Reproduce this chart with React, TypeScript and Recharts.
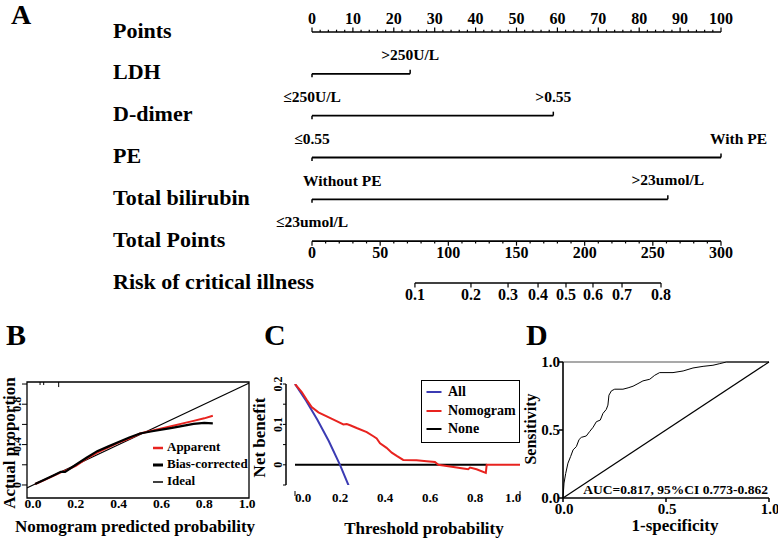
import React from 'react';
import {
  ComposedChart,
  Line,
  Scatter,
  XAxis,
  YAxis,
  ReferenceArea,
  ReferenceLine,
  Legend,
  Label,
} from 'recharts';

const SERIF = '"Liberation Serif", "Times New Roman", Times, serif';
const RED = '#e8231f';
const BLUE = '#3b3bb3';
const T = { fontFamily: SERIF, fontWeight: 700, fill: '#000' } as const;

/* ---------------- Panel A: nomogram ---------------- */
const rowLabels = ['Points', 'LDH', 'D-dimer', 'PE', 'Total bilirubin', 'Total Points', 'Risk of critical illness'];
const pointsTicks = Array.from({ length: 51 }, (_, i) => i * 2);
const pointsTickLabels = [0, 10, 20, 30, 40, 50, 60, 70, 80, 90, 100];
const predictorMaxPoints = [24, 59, 100, 87];
const levelLow = ['≤250U/L', '≤0.55', 'Without PE', '≤23umol/L'];
const levelHigh = ['>250U/L', '>0.55', 'With PE', '>23umol/L'];
const totalTicks = Array.from({ length: 31 }, (_, i) => i * 10);
const totalTickLabels = [0, 50, 100, 150, 200, 250, 300];
const riskTickLabels = ['0.1', '0.2', '0.3', '0.4', '0.5', '0.6', '0.7', '0.8'];
const riskTickPoints = [75.5, 116.6, 143.8, 165.8, 186.3, 206.1, 227.4, 256];

/* ---------------- Panel B: calibration ---------------- */
const calX = [0.01, 0.05, 0.1, 0.13, 0.15, 0.2, 0.25, 0.3, 0.35, 0.4, 0.45, 0.5, 0.55, 0.6, 0.65, 0.7, 0.75, 0.8, 0.84];
const calApparent = [0.01, 0.045, 0.095, 0.125, 0.14, 0.19, 0.26, 0.32, 0.37, 0.42, 0.46, 0.51, 0.535, 0.56, 0.585, 0.61, 0.635, 0.66, 0.685];
const calBias = [0.01, 0.05, 0.1, 0.13, 0.13, 0.2, 0.27, 0.335, 0.38, 0.425, 0.47, 0.51, 0.53, 0.548, 0.565, 0.585, 0.605, 0.615, 0.61];
const idealX = [-0.03, 1.03];
const rugX = [0.033, 0.05, 0.12];
const rugLen = [0.03, 0.03, 0.05];
const calLegend = [
  { name: 'Apparent', color: RED, width: 2.5 },
  { name: 'Bias-corrected', color: '#000', width: 3 },
  { name: 'Ideal', color: '#000', width: 1.5 },
];

/* ---------------- Panel C: decision curve ---------------- */
const allT = [0, 0.05, 0.1, 0.15, 0.2, 0.25];
const allNB = [0.2, 0.158, 0.111, 0.059, 0, -0.067];
const nomoT = [0, 0.03, 0.052, 0.074, 0.104, 0.141, 0.185, 0.215, 0.23, 0.245, 0.274, 0.319, 0.35, 0.363, 0.378, 0.407, 0.43, 0.452, 0.481, 0.54, 0.585, 0.622, 0.637, 0.689, 0.748, 0.77, 0.778, 0.807, 0.848, 0.852, 1.0];
const nomoNB = [0.2, 0.18, 0.161, 0.143, 0.13, 0.12, 0.108, 0.1, 0.101, 0.098, 0.091, 0.081, 0.07, 0.065, 0.053, 0.042, 0.03, 0.022, 0.012, 0.011, 0.009, 0.007, 0.0, -0.004, -0.009, -0.011, -0.007, -0.011, -0.02, 0.0, 0.0];
const noneT = [0, 0.852];
const noneNB = [0, 0];
const dcaLegend = [
  { name: 'All', color: BLUE },
  { name: 'Nomogram', color: RED },
  { name: 'None', color: '#000' },
];

/* ---------------- Panel D: ROC ---------------- */
const rocFpr = [0, 0.005, 0.013, 0.024, 0.037, 0.049, 0.065, 0.078, 0.089, 0.113, 0.129, 0.146, 0.162, 0.181, 0.194, 0.21, 0.218, 0.223, 0.235, 0.251, 0.291, 0.316, 0.34, 0.364, 0.388, 0.421, 0.445, 0.469, 0.534, 0.583, 0.631, 0.68, 0.728, 0.761, 0.793, 1.0];
const rocTpr = [0, 0.11, 0.18, 0.256, 0.305, 0.354, 0.378, 0.43, 0.446, 0.456, 0.488, 0.52, 0.561, 0.573, 0.622, 0.651, 0.683, 0.756, 0.788, 0.8, 0.8, 0.81, 0.822, 0.841, 0.861, 0.873, 0.902, 0.922, 0.922, 0.934, 0.956, 0.968, 0.976, 0.988, 1.0, 1.0];
const aucText = 'AUC=0.817, 95%CI 0.773-0.862';

/* ---------------- derived tables ---------------- */
const pointsRow = pointsTicks.map((v) => ({ x: v, y: 0, major: pointsTickLabels.includes(v) }));
const levelRows = predictorMaxPoints.map((m, i) => [
  { x: 0, y: i + 1, label: levelLow[i], end: 'low' },
  { x: m, y: i + 1, label: levelHigh[i], end: 'high' },
]);
const totalRow = totalTicks.map((v) => ({ x: v, y: 5, major: totalTickLabels.includes(v) }));
const riskRow = riskTickPoints.map((p, i) => ({ x: p, y: 6, label: riskTickLabels[i] }));

const apparentData = calX.map((x, i) => ({ x, y: calApparent[i] }));
const biasData = calX.map((x, i) => ({ x, y: calBias[i] }));
const idealData = idealX.map((x) => ({ x, y: x }));

const allData = allT.map((t, i) => ({ t, nb: allNB[i] }));
const nomoData = nomoT.map((t, i) => ({ t, nb: nomoNB[i] }));
const noneData = noneT.map((t, i) => ({ t, nb: noneNB[i] }));

const rocData = rocFpr.map((x, i) => ({ x, y: rocTpr[i] }));
const diagData = [{ x: 0, y: 0 }, { x: 1, y: 1 }];

/* label placement tweaks for the nomogram level texts */
const levelShift: Record<string, { anchor: 'start' | 'middle' | 'end'; dx: number }> = {
  'Without PE': { anchor: 'start', dx: -9 },
  'With PE': { anchor: 'start', dx: -11 },
};

/* ---------------- shapes & ticks ---------------- */
const RowLabelTick = (p: any) => (
  <text x={113} y={p.y + 5.5} fontSize={22} {...T}>
    {rowLabels[p.payload.value]}
  </text>
);

const PointsTickShape = (p: any) => {
  const { cx, cy, payload } = p;
  const len = payload.major ? 4.5 : 2.3;
  return (
    <g>
      <line x1={cx} x2={cx} y1={cy} y2={cy - len} stroke="#000" strokeWidth={1.2} />
      {payload.major && (
        <text x={cx} y={cy - 8} textAnchor="middle" fontSize={16} {...T}>
          {payload.x}
        </text>
      )}
    </g>
  );
};

const LevelEndShape = (p: any) => {
  const { cx, cy, payload } = p;
  const low = payload.end === 'low';
  const sh = levelShift[payload.label] ?? { anchor: 'middle', dx: 0 };
  return (
    <g>
      <line x1={cx} x2={cx} y1={cy} y2={low ? cy + 3.5 : cy - 4} stroke="#000" strokeWidth={1.5} />
      <text x={cx + sh.dx} y={low ? cy + 28 : cy - 14} textAnchor={sh.anchor} fontSize={15.5} {...T}>
        {payload.label}
      </text>
    </g>
  );
};

const TotalTickShape = (p: any) => {
  const { cx, cy, payload } = p;
  const len = payload.major ? 4.5 : 2.3;
  return (
    <g>
      <line x1={cx} x2={cx} y1={cy} y2={cy + len} stroke="#000" strokeWidth={1.2} />
      {payload.major && (
        <text x={cx} y={cy + 17} textAnchor="middle" fontSize={16} {...T}>
          {payload.x}
        </text>
      )}
    </g>
  );
};

const RiskTickShape = (p: any) => {
  const { cx, cy, payload } = p;
  return (
    <g>
      <line x1={cx} x2={cx} y1={cy} y2={cy + 4.5} stroke="#000" strokeWidth={1.2} />
      <text x={cx} y={cy + 17} textAnchor="middle" fontSize={16} {...T}>
        {payload.label}
      </text>
    </g>
  );
};

/* panel B ticks */
const bYLabelled = [0, 0.4, 0.8];
const BXTick = (p: any) => (
  <text x={p.x} y={p.y + 10} textAnchor="middle" fontSize={13.5} {...T}>
    {Number(p.payload.value).toFixed(1)}
  </text>
);
const BYTick = (p: any) => {
  const v = p.payload.value;
  const tx = p.x - 6;
  return (
    <g>
      <line x1={p.x - 5} x2={p.x} y1={p.y} y2={p.y} stroke="#000" strokeWidth={1} />
      {bYLabelled.includes(v) && (
        <text x={tx} y={p.y} transform={`rotate(-90 ${tx} ${p.y})`} textAnchor="middle" fontSize={12} {...T}>
          {String(v)}
        </text>
      )}
    </g>
  );
};

/* panel C ticks */
const cYLabelled = [0, 0.1, 0.2];
const CXTick = (p: any) => {
  const v = p.payload.value;
  const shift = v === 0 ? 8 : v === 1 ? -7 : 0;
  const isEnd = v === 0 || v === 1;
  return (
    <g>
      {isEnd && <line x1={p.x} x2={p.x} y1={p.y + 6} y2={p.y + 11} stroke="#000" strokeWidth={1} />}
      <text x={p.x + shift} y={p.y + 17} textAnchor="middle" fontSize={13} {...T}>
        {Number(v).toFixed(1)}
      </text>
    </g>
  );
};
const CYTick = (p: any) => {
  const v = p.payload.value;
  const tx = p.x - 4;
  return (
    <g>
      <line x1={p.x - 3} x2={p.x} y1={p.y} y2={p.y} stroke="#000" strokeWidth={1} />
      {cYLabelled.includes(v) && (
        <text x={tx} y={p.y} transform={`rotate(-90 ${tx} ${p.y})`} textAnchor="middle" fontSize={12} {...T}>
          {String(v)}
        </text>
      )}
    </g>
  );
};

/* panel D ticks */
const DXTick = (p: any) => (
  <g>
    <line x1={p.x} x2={p.x} y1={p.y} y2={p.y + 4} stroke="#000" strokeWidth={1.5} />
    <text x={p.x + 1} y={p.y + 16} textAnchor="middle" fontSize={15} {...T}>
      {Number(p.payload.value).toFixed(1)}
    </text>
  </g>
);
const DYTick = (p: any) => (
  <g>
    <line x1={p.x - 4} x2={p.x} y1={p.y} y2={p.y} stroke="#000" strokeWidth={1.5} />
    <text x={p.x - 3} y={p.y + 5} textAnchor="end" fontSize={15} {...T}>
      {Number(p.payload.value).toFixed(1)}
    </text>
  </g>
);

/* axis titles via Label content */
const xTitle = (text: string, dx: number, dy: number, size: number) => (props: any) => {
  const vb = props.viewBox || {};
  return (
    <text x={vb.x + vb.width / 2 + dx} y={vb.y + dy} textAnchor="middle" fontSize={size} {...T}>
      {text}
    </text>
  );
};
const yTitle = (text: string, bx: number, dy: number, size: number) => (props: any) => {
  const vb = props.viewBox || {};
  const x = vb.x + bx;
  const y = vb.y + vb.height / 2 + dy;
  return (
    <text x={x} y={y} transform={`rotate(-90 ${x} ${y})`} textAnchor="middle" fontSize={size} {...T}>
      {text}
    </text>
  );
};
const aucLabel = (props: any) => {
  const vb = props.viewBox || {};
  return (
    <text x={vb.x + vb.width - 1} y={vb.y - 4} textAnchor="end" fontSize={13.5} {...T}>
      {aucText}
    </text>
  );
};

/* legends */
const CalLegendContent = () => (
  <div style={{ fontFamily: SERIF, fontWeight: 700, fontSize: 13, color: '#000', lineHeight: '17px' }}>
    {calLegend.map((e) => (
      <div key={e.name} style={{ display: 'flex', alignItems: 'center', height: 17, whiteSpace: 'nowrap' }}>
        <svg width={15} height={17} style={{ display: 'block' }}>
          <line x1={1} x2={11} y1={10} y2={10} stroke={e.color} strokeWidth={e.width} />
        </svg>
        <span>{e.name}</span>
      </div>
    ))}
  </div>
);

const DcaLegendContent = () => (
  <div
    style={{
      fontFamily: SERIF,
      fontWeight: 700,
      fontSize: 14,
      color: '#000',
      border: '1.5px solid #000',
      boxSizing: 'border-box',
      width: 99,
      height: 63,
      paddingTop: 2,
      background: '#fff',
    }}
  >
    {dcaLegend.map((e) => (
      <div key={e.name} style={{ display: 'flex', alignItems: 'center', height: 18.5, whiteSpace: 'nowrap' }}>
        <svg width={26} height={18} style={{ display: 'block' }}>
          <line x1={4.5} x2={19.5} y1={9} y2={9} stroke={e.color} strokeWidth={2} />
        </svg>
        <span>{e.name}</span>
      </div>
    ))}
  </div>
);

/* ---------------- charts ---------------- */
function Nomogram() {
  return (
    <ComposedChart width={778} height={310} margin={{ top: 32, right: 57, bottom: 27, left: 112 }}>
      <XAxis xAxisId="pts" type="number" dataKey="x" domain={[0, 100]} hide />
      <XAxis xAxisId="tot" type="number" dataKey="x" domain={[0, 300]} hide />
      <YAxis
        yAxisId="row"
        type="number"
        dataKey="y"
        domain={[0, 6]}
        reversed
        ticks={[0, 1, 2, 3, 4, 5, 6]}
        interval={0}
        width={200}
        axisLine={false}
        tickLine={false}
        tickSize={0}
        tickMargin={0}
        tick={RowLabelTick}
      />
      <Scatter
        xAxisId="pts"
        yAxisId="row"
        data={pointsRow}
        line={{ stroke: '#000', strokeWidth: 1.6 }}
        shape={PointsTickShape}
        isAnimationActive={false}
      />
      {levelRows.map((d, i) => (
        <Scatter
          key={i}
          xAxisId="pts"
          yAxisId="row"
          data={d}
          line={{ stroke: '#000', strokeWidth: 1.8 }}
          shape={LevelEndShape}
          isAnimationActive={false}
        />
      ))}
      <Scatter
        xAxisId="tot"
        yAxisId="row"
        data={totalRow}
        line={{ stroke: '#000', strokeWidth: 1.6 }}
        shape={TotalTickShape}
        isAnimationActive={false}
      />
      <Scatter
        xAxisId="tot"
        yAxisId="row"
        data={riskRow}
        line={{ stroke: '#000', strokeWidth: 1.6 }}
        shape={RiskTickShape}
        isAnimationActive={false}
      />
    </ComposedChart>
  );
}

function Calibration() {
  return (
    <ComposedChart width={260} height={178} margin={{ top: 22, right: 11, bottom: 0, left: 0 }}>
      <XAxis
        type="number"
        dataKey="x"
        domain={[-0.028, 1.009]}
        allowDataOverflow
        ticks={[0, 0.2, 0.4, 0.6, 0.8, 1]}
        interval={0}
        height={40}
        axisLine={false}
        tickLine={false}
        tickSize={0}
        tickMargin={0}
        tick={BXTick}
      >
        <Label content={xTitle('Nomogram predicted probability', -3, 34, 17)} />
      </XAxis>
      <YAxis
        type="number"
        domain={[-0.129, 1.02]}
        allowDataOverflow
        ticks={[0, 0.2, 0.4, 0.6, 0.8, 1]}
        interval={0}
        width={27}
        axisLine={false}
        tickLine={false}
        tickSize={0}
        tickMargin={0}
        tick={BYTick}
      >
        <Label content={yTitle('Actual proportion', 15, 3, 17)} />
      </YAxis>
      <ReferenceArea x1={-0.028} x2={1.009} y1={-0.129} y2={1.02} fill="none" stroke="#000" strokeWidth={1.3} ifOverflow="visible" />
      {rugX.map((v, i) => (
        <ReferenceLine
          key={i}
          segment={[{ x: v, y: 1.02 }, { x: v, y: 1.02 - rugLen[i] }]}
          stroke="#000"
          strokeWidth={1}
          ifOverflow="visible"
        />
      ))}
      <Line data={idealData} dataKey="y" stroke="#000" strokeWidth={1.2} dot={false} isAnimationActive={false} legendType="none" />
      <Line data={apparentData} dataKey="y" stroke={RED} strokeWidth={2} dot={false} isAnimationActive={false} name="Apparent" />
      <Line data={biasData} dataKey="y" stroke="#000" strokeWidth={2.2} dot={false} isAnimationActive={false} name="Bias-corrected" />
      <Legend
        content={CalLegendContent}
        layout="horizontal"
        verticalAlign="middle"
        align="center"
        wrapperStyle={{ left: 152, top: 78, width: 'auto', height: 'auto' }}
      />
    </ComposedChart>
  );
}

function DecisionCurve() {
  return (
    <ComposedChart width={280} height={178} margin={{ top: 24, right: 10, bottom: 0, left: 0 }}>
      <XAxis
        type="number"
        dataKey="t"
        domain={[-0.04, 1]}
        allowDataOverflow
        ticks={[0, 0.2, 0.4, 0.6, 0.8, 1]}
        interval={0}
        height={53}
        axisLine={false}
        tickLine={false}
        tickSize={0}
        tickMargin={0}
        tick={CXTick}
      >
        <Label content={xTitle('Threshold probability', 21, 49, 17)} />
      </XAxis>
      <YAxis
        type="number"
        domain={[-0.05, 0.2]}
        allowDataOverflow
        ticks={[-0.05, 0, 0.05, 0.1, 0.15, 0.2]}
        interval={0}
        width={36}
        axisLine={{ stroke: '#000', strokeWidth: 1.5 }}
        tickLine={false}
        tickSize={0}
        tickMargin={0}
        tick={CYTick}
      >
        <Label content={yTitle('Net benefit', 15, 3, 17)} />
      </YAxis>
      <Line data={noneData} dataKey="nb" stroke="#000" strokeWidth={2} dot={false} isAnimationActive={false} name="None" />
      <Line data={allData} dataKey="nb" stroke={BLUE} strokeWidth={2} dot={false} isAnimationActive={false} name="All" />
      <Line data={nomoData} dataKey="nb" stroke={RED} strokeWidth={2} dot={false} isAnimationActive={false} name="Nomogram" />
      <Legend
        content={DcaLegendContent}
        layout="horizontal"
        verticalAlign="middle"
        align="center"
        wrapperStyle={{ left: 171, top: 20, width: 'auto', height: 'auto' }}
      />
    </ComposedChart>
  );
}

function Roc() {
  return (
    <ComposedChart width={258} height={198} margin={{ top: 22, right: 9, bottom: 0, left: 0 }}>
      <XAxis
        type="number"
        dataKey="x"
        domain={[0, 1]}
        ticks={[0, 0.5, 1]}
        interval={0}
        height={40}
        axisLine={{ stroke: '#000', strokeWidth: 1.6 }}
        tickLine={false}
        tickSize={0}
        tickMargin={0}
        tick={DXTick}
      >
        <Label content={xTitle('1-specificity', 9, 33, 17)} />
        <Label content={aucLabel} />
      </XAxis>
      <YAxis
        type="number"
        domain={[0, 1]}
        ticks={[0, 0.5, 1]}
        interval={0}
        width={43}
        axisLine={{ stroke: '#000', strokeWidth: 1.6 }}
        tickLine={false}
        tickSize={0}
        tickMargin={0}
        tick={DYTick}
      >
        <Label content={yTitle('Sensitivity', 16, -1, 16)} />
      </YAxis>
      <ReferenceLine y={1} stroke="#555" strokeWidth={1.2} />
      <Line data={diagData} dataKey="y" stroke="#000" strokeWidth={1.2} dot={false} isAnimationActive={false} />
      <Line data={rocData} dataKey="y" stroke="#000" strokeWidth={1} dot={false} isAnimationActive={false} />
    </ComposedChart>
  );
}

const letterStyle = (left: number, top: number, size: number): React.CSSProperties => ({
  position: 'absolute',
  left,
  top,
  fontFamily: SERIF,
  fontWeight: 700,
  fontSize: size,
  lineHeight: 1,
  color: '#000',
});

export default function App() {
  return (
    <div style={{ position: 'absolute', left: 0, top: 0, width: 778, height: 538, background: '#fff', overflow: 'hidden' }}>
      <div style={{ position: 'absolute', left: 0, top: 0 }}>
        <Nomogram />
      </div>
      <div style={{ position: 'absolute', left: 0, top: 360 }}>
        <Calibration />
      </div>
      <div style={{ position: 'absolute', left: 250, top: 360 }}>
        <DecisionCurve />
      </div>
      <div style={{ position: 'absolute', left: 520, top: 340 }}>
        <Roc />
      </div>
      <div style={letterStyle(11, 1, 28)}>A</div>
      <div style={letterStyle(6, 320, 30)}>B</div>
      <div style={letterStyle(264, 320, 30)}>C</div>
      <div style={letterStyle(526, 320, 30)}>D</div>
    </div>
  );
}
